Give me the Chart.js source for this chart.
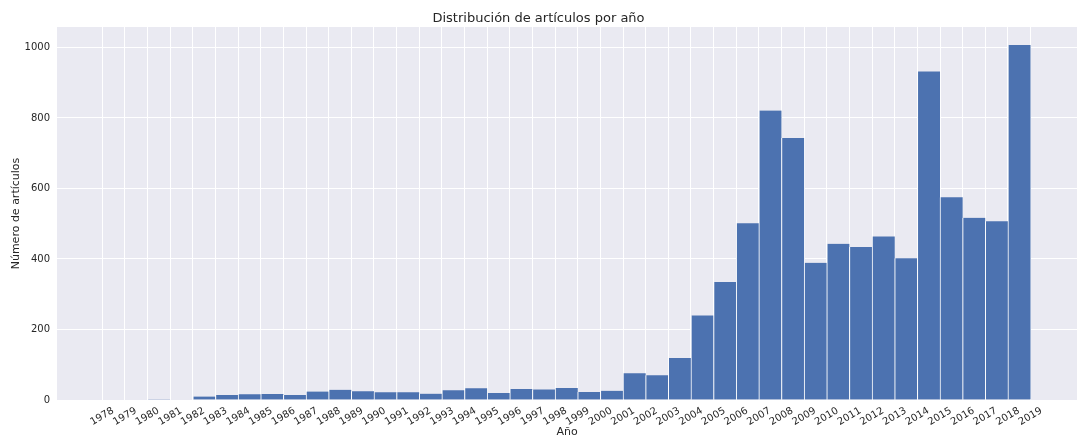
<!DOCTYPE html>
<html>
<head>
<meta charset="utf-8">
<script src="https://cdn.jsdelivr.net/npm/chart.js@4"></script>
<style>
  html, body { margin: 0; padding: 0; background: #fff; }
  #wrap { width: 1083px; height: 438px; }
</style>
</head>
<body>
<div id="wrap"><canvas id="hist"></canvas></div>
<script>
// articles per year
const years = [1980, 1981, 1982, 1983, 1984, 1985, 1986, 1987, 1988, 1989,
    1990, 1991, 1992, 1993, 1994, 1995, 1996, 1997, 1998, 1999,
    2000, 2001, 2002, 2003, 2004, 2005, 2006, 2007, 2008, 2009,
    2010, 2011, 2012, 2013, 2014, 2015, 2016, 2017, 2018];
const counts = [2, 0, 10, 14, 16, 17, 14, 24, 29, 25,
    22, 22, 18, 28, 33, 20, 31, 30, 34, 23,
    26, 76, 70, 119, 240, 335, 501, 821, 743, 389,
    443, 434, 464, 402, 932, 575, 517, 507, 1007];
const yearTicks = [];
for (let y = 1978; y <= 2019; y++) yearTicks.push(y);
const countTicks = [0, 200, 400, 600, 800, 1000];

const textColor = '#262626';
const font = 'DejaVu Sans';

const plotBg = {
    id: 'plotBg',
    beforeDraw(chart) {
        const { ctx, chartArea: a } = chart;
        ctx.save();
        ctx.fillStyle = '#EAEAF2';
        ctx.fillRect(a.left, a.top, a.right - a.left, a.bottom - a.top);
        ctx.restore();
    }
};

new Chart(document.getElementById('hist'), {
    type: 'bar',
    data: {
        datasets: [{
            data: years.map((y, i) => ({ x: y + 0.5, y: counts[i] })),
            backgroundColor: '#4C72B0',
            borderColor: '#ffffff',
            borderWidth: { left: 1, right: 0, top: 0, bottom: 0 },
            borderSkipped: false,
            barPercentage: 1,
            categoryPercentage: 1
        }]
    },
    plugins: [plotBg],
    options: {
        responsive: true,
        maintainAspectRatio: false,
        animation: false,
        layout: { padding: { left: 0, right: 6, top: 0, bottom: 0 } },
        plugins: {
            legend: { display: false },
            tooltip: { enabled: false },
            title: {
                display: true,
                text: 'Distribución de artículos por año',
                color: textColor,
                font: { family: font, size: 13, weight: 'normal' },
                padding: { top: 11, bottom: 0.4 }
            }
        },
        scales: {
            x: {
                type: 'linear',
                offset: false,
                min: 1976,
                max: 2021.05,
                afterBuildTicks: s => { s.ticks = yearTicks.map(v => ({ value: v })); },
                afterFit: s => { s.height = 38; },
                grid: { color: '#ffffff', lineWidth: 1, drawTicks: false, offset: false },
                border: { display: false },
                ticks: {
                    autoSkip: false,
                    minRotation: 30,
                    maxRotation: 30,
                    labelOffset: 11,
                    padding: 5,
                    color: textColor,
                    font: { family: font, size: 10 },
                    callback: v => String(v)
                },
                title: {
                    display: true,
                    text: 'Año',
                    color: textColor,
                    font: { family: font, size: 11, lineHeight: 1 },
                    padding: { top: 0, bottom: 0 }
                }
            },
            y: {
                min: 0,
                max: 1058,
                afterBuildTicks: s => { s.ticks = countTicks.map(v => ({ value: v })); },
                afterFit: s => { s.width = 57; },
                grid: { color: '#ffffff', lineWidth: 1, drawTicks: false },
                border: { display: false },
                ticks: {
                    padding: 7,
                    color: textColor,
                    font: { family: font, size: 10 },
                    callback: v => String(v)
                },
                title: {
                    display: true,
                    text: 'Número de artículos',
                    color: textColor,
                    font: { family: font, size: 11 },
                    padding: { top: 10, bottom: 0 }
                }
            }
        }
    }
});
</script>
</body>
</html>
